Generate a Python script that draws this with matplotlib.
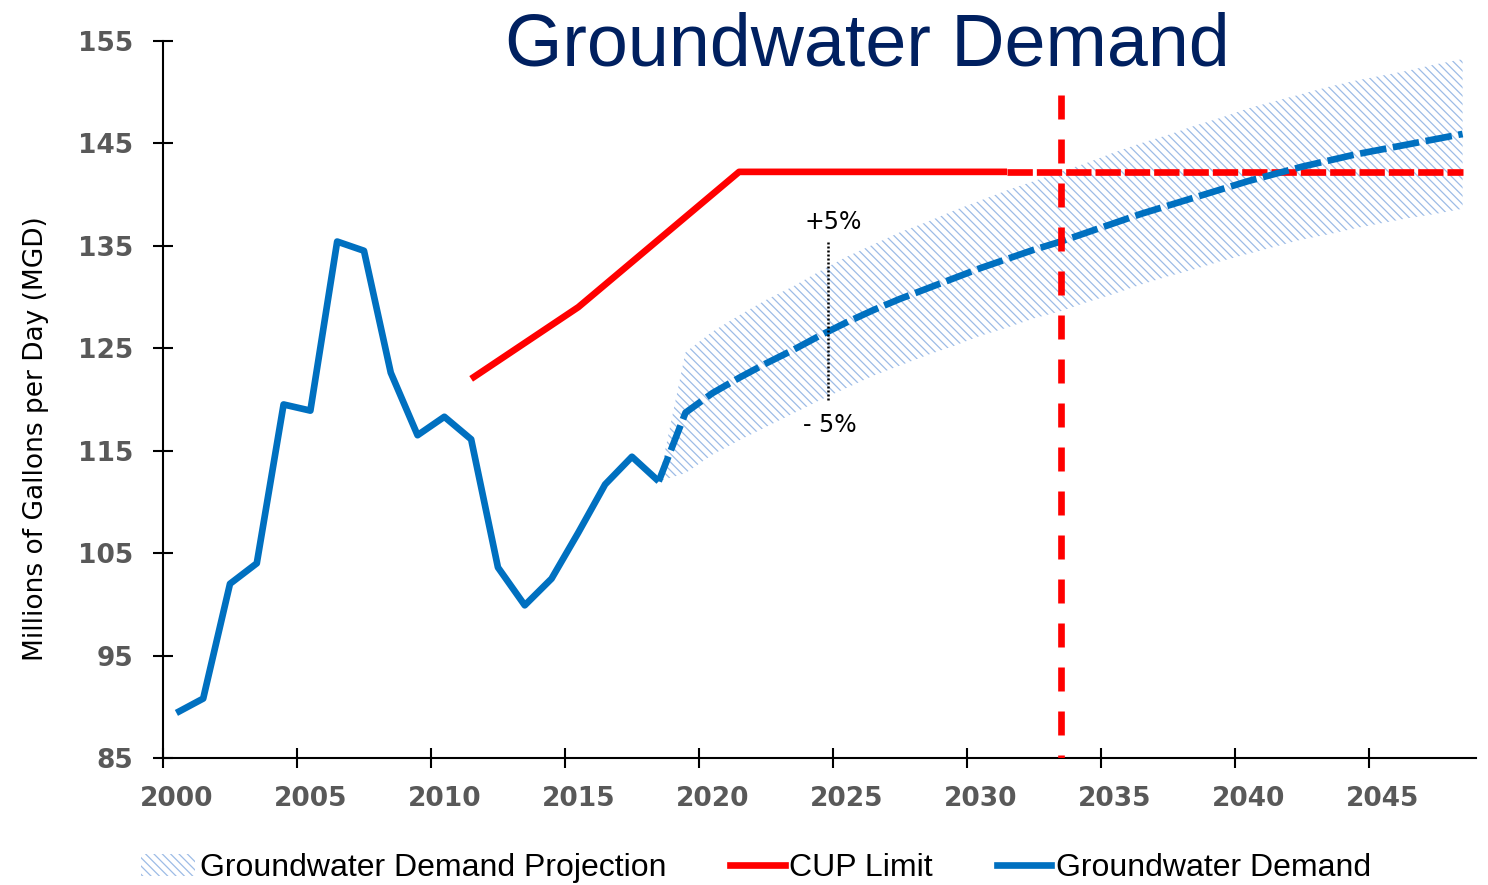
import matplotlib
matplotlib.use("Agg")
import matplotlib.pyplot as plt
from matplotlib.patches import Patch
from matplotlib.lines import Line2D

# ---------------- data ----------------
years_hist = list(range(2000, 2019))
demand_hist = [89.4, 90.8, 102.0, 104.0, 119.5, 118.9, 135.4, 134.5, 122.6, 116.5,
               118.3, 116.1, 103.6, 99.9, 102.5, 107.0, 111.7, 114.4, 112.0]

years_proj = list(range(2018, 2049))
demand_proj = [112.0, 118.7, 120.6, 122.1, 123.5, 124.8, 126.2, 127.5, 128.7, 129.8,
               130.8, 131.8, 132.8, 133.7, 134.6, 135.4, 136.3, 137.2, 138.1, 138.9,
               139.7, 140.5, 141.3, 142.0, 142.7, 143.3, 143.9, 144.4, 144.9, 145.4, 145.9]
proj_upper = [112.0, 124.6, 126.6, 128.2, 129.7, 131.0, 132.5, 133.9, 135.1, 136.3,
              137.3, 138.4, 139.4, 140.4, 141.3, 142.2, 143.1, 144.1, 145.0, 145.8,
              146.7, 147.5, 148.4, 149.1, 149.8, 150.5, 151.1, 151.6, 152.1, 152.7, 153.2]
proj_lower = [112.0, 112.8, 114.6, 116.0, 117.3, 118.6, 119.9, 121.1, 122.3, 123.3,
              124.3, 125.2, 126.2, 127.0, 127.9, 128.6, 129.5, 130.3, 131.2, 132.0,
              132.7, 133.5, 134.2, 134.9, 135.6, 136.1, 136.7, 137.2, 137.7, 138.1, 138.6]

cup_years = list(range(2011, 2032))
cup_limit = [122.0, 123.75, 125.5, 127.25, 129.0, 131.2, 133.4, 135.6, 137.8, 140.0,
             142.2, 142.2, 142.2, 142.2, 142.2, 142.2, 142.2, 142.2, 142.2, 142.2, 142.2]
cup_future_years = list(range(2031, 2049))
cup_future = [142.2] * 18

cutoff_year = 2033
cutoff_range = [149.7, 85]

note_x = 2024.3
note_range = [135.4, 119.8]
note_plus = "+5%"
note_minus = "- 5%"

x_tick_labels = [2000, 2005, 2010, 2015, 2020, 2025, 2030, 2035, 2040, 2045]
y_ticks = [85, 95, 105, 115, 125, 135, 145, 155]

title = "Groundwater Demand"
ylabel = "Millions of Gallons per Day (MGD)"
leg_labels = ["Groundwater Demand Projection", "CUP Limit", "Groundwater Demand"]

# ---------------- style ----------------
BLUE = "#0070C0"
RED = "#FF0000"
HATCH = "#9DBCE6"
NAVY = "#002060"
GRAY = "#595959"
LW = 4.8
plt.rcParams["hatch.linewidth"] = 0.9

fig = plt.figure(figsize=(14.88, 8.85), dpi=100)
ax = fig.add_axes([163 / 1488, 127 / 885, 1313 / 1488, 717.3 / 885])

ax.fill_between(years_proj, proj_lower, proj_upper, facecolor="none",
                edgecolor=HATCH, linewidth=0, hatch="\\\\\\\\", zorder=1)

ax.plot(cup_years, cup_limit, color=RED, lw=LW, solid_joinstyle="round",
        solid_capstyle="butt", zorder=3)
ax.plot(cup_future_years, cup_future, color=RED, lw=LW, dashes=(3.8, 0.6),
        dash_capstyle="butt", zorder=3)
ax.plot(years_proj, demand_proj, color=BLUE, lw=LW, dashes=(4.0, 1.0),
        dash_capstyle="butt", zorder=4)
ax.plot(years_hist, demand_hist, color=BLUE, lw=LW, solid_joinstyle="round",
        solid_capstyle="butt", zorder=4)
ax.plot([cutoff_year, cutoff_year], cutoff_range, color=RED, lw=LW,
        dashes=(3.6, 3.0), dash_capstyle="butt", zorder=5)

ax.plot([note_x, note_x], note_range, color="black", lw=1.8, ls=(0, (0.8, 0.8)), zorder=6)
ax.text(note_x + 0.2, note_range[0] + 1.9, note_plus, ha="center", va="center",
        fontsize=17, color="black", zorder=6)
ax.text(note_x + 0.1, note_range[1] - 2.3, note_minus, ha="center", va="center",
        fontsize=17, color="black", zorder=6)

ax.set_xlim(1999.5, 2048.5)
ax.set_ylim(85, 155)

ax.set_xticks(x_tick_labels)
ax.set_xticklabels([str(v) for v in x_tick_labels], fontweight="bold")
ax.set_xticks([v - 0.5 for v in x_tick_labels], minor=True)
ax.tick_params(axis="x", which="major", length=0, pad=20, labelsize=19, labelcolor=GRAY)
ax.tick_params(axis="x", which="minor", direction="inout", length=14.4, width=1.5,
               color="black")
ax.set_yticks(y_ticks)
ax.set_yticklabels([str(v) for v in y_ticks], fontweight="bold")
ax.tick_params(axis="y", which="major", direction="inout", length=14.4, width=1.5,
               pad=14, labelsize=19, labelcolor=GRAY, color="black")

for s in ["top", "right"]:
    ax.spines[s].set_visible(False)
for s in ["left", "bottom"]:
    ax.spines[s].set_linewidth(1.5)
    ax.spines[s].set_color("black")

ax.set_ylabel(ylabel, fontsize=19, color="black")
ax.yaxis.set_label_coords(-0.087, 0.445)

fig.text(0.583, 1 - 66 / 885, title, ha="center", va="baseline", fontsize=53,
         color=NAVY, family=["Liberation Sans", "DejaVu Sans"])

handles = [
    Patch(facecolor="none", edgecolor=HATCH, hatch="\\\\\\\\", linewidth=0),
    Line2D([], [], color=RED, lw=LW),
    Line2D([], [], color=BLUE, lw=LW),
]
fig.legend(handles, leg_labels, loc="center", bbox_to_anchor=(0.508, 1 - 868 / 885),
           ncol=3, frameon=False, handlelength=1.7, handletextpad=0.15,
           columnspacing=2.0, borderpad=0, borderaxespad=0,
           prop={"family": ["Liberation Sans", "DejaVu Sans"], "size": 23})

fig.savefig("out.png", dpi=100)
